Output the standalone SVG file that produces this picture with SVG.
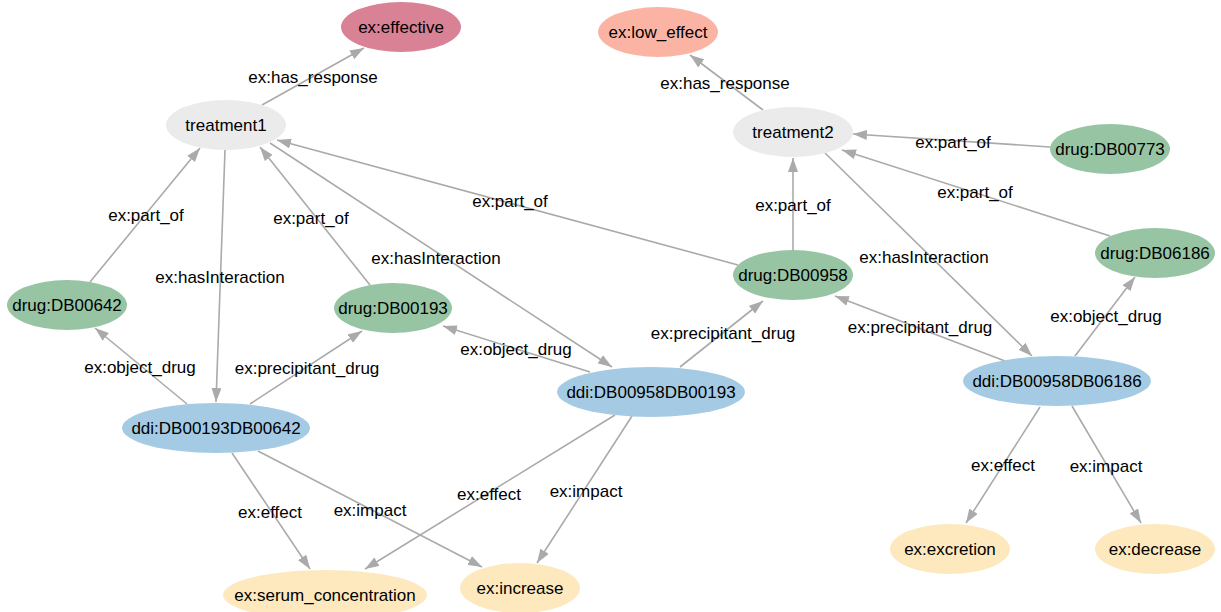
<svg xmlns="http://www.w3.org/2000/svg" width="1221" height="612" viewBox="0 0 1221 612">
<defs>
<marker id="arr" markerUnits="userSpaceOnUse" markerWidth="14" markerHeight="10" refX="14" refY="5" orient="auto">
<path d="M0,0 L14,5 L0,10 z" fill="#aaaaaa"/>
</marker>
<style>
.e{stroke:#aaaaaa;stroke-width:1.6;fill:none;marker-end:url(#arr)}
.n text,.l{font-family:"Liberation Sans",Arial,sans-serif;font-size:17px;fill:#000}
.n text{text-anchor:middle;dominant-baseline:central}
.l{text-anchor:middle;dominant-baseline:central}
.g{fill:#ebebeb}.gr{fill:#97c5a3}.b{fill:#a4cbe3}.y{fill:#fde9bd}
</style>
</defs>
<rect width="1221" height="612" fill="#ffffff"/>
<g id="edges">
<line class="e" x1="262" y1="105" x2="364" y2="48"/>
<line class="e" x1="763" y1="110" x2="690" y2="55"/>
<line class="e" x1="1050" y1="147" x2="853" y2="134"/>
<line class="e" x1="1110" y1="236" x2="842" y2="150"/>
<line class="e" x1="793" y1="250" x2="793" y2="158"/>
<line class="e" x1="738" y1="265" x2="277" y2="140"/>
<line class="e" x1="90" y1="282" x2="200" y2="148"/>
<line class="e" x1="370" y1="285" x2="260" y2="147"/>
<line class="e" x1="225" y1="150" x2="216" y2="402"/>
<line class="e" x1="270" y1="143" x2="612" y2="367"/>
<line class="e" x1="825" y1="153" x2="1032" y2="356"/>
<line class="e" x1="187" y1="404" x2="95" y2="328"/>
<line class="e" x1="250" y1="404" x2="362" y2="331"/>
<line class="e" x1="590" y1="372" x2="443" y2="326"/>
<line class="e" x1="680" y1="367" x2="763" y2="301"/>
<line class="e" x1="1005" y1="361" x2="835" y2="296"/>
<line class="e" x1="1075" y1="356" x2="1135" y2="277"/>
<line class="e" x1="232" y1="453" x2="310" y2="569"/>
<line class="e" x1="258" y1="451" x2="482" y2="567"/>
<line class="e" x1="615" y1="415" x2="365" y2="569"/>
<line class="e" x1="632" y1="416" x2="537" y2="563"/>
<line class="e" x1="1040" y1="407" x2="966" y2="523"/>
<line class="e" x1="1072" y1="406" x2="1141" y2="523"/>
</g>
<g id="edge-labels">
<text class="l" x="313" y="77">ex:has_response</text>
<text class="l" x="725" y="83">ex:has_response</text>
<text class="l" x="953" y="142">ex:part_of</text>
<text class="l" x="975" y="192">ex:part_of</text>
<text class="l" x="793" y="205">ex:part_of</text>
<text class="l" x="510" y="201">ex:part_of</text>
<text class="l" x="146" y="215">ex:part_of</text>
<text class="l" x="311" y="218">ex:part_of</text>
<text class="l" x="220" y="277">ex:hasInteraction</text>
<text class="l" x="436" y="258">ex:hasInteraction</text>
<text class="l" x="924" y="257">ex:hasInteraction</text>
<text class="l" x="140" y="367">ex:object_drug</text>
<text class="l" x="307" y="368">ex:precipitant_drug</text>
<text class="l" x="516" y="349">ex:object_drug</text>
<text class="l" x="723" y="333">ex:precipitant_drug</text>
<text class="l" x="920" y="327">ex:precipitant_drug</text>
<text class="l" x="1106" y="316">ex:object_drug</text>
<text class="l" x="270" y="512">ex:effect</text>
<text class="l" x="370" y="510">ex:impact</text>
<text class="l" x="489" y="494">ex:effect</text>
<text class="l" x="586" y="491">ex:impact</text>
<text class="l" x="1003" y="465">ex:effect</text>
<text class="l" x="1106" y="466">ex:impact</text>
</g>
<g id="n-effective" class="n"><ellipse cx="401" cy="27" rx="60" ry="25" fill="#d98195"/><text x="401" y="27">ex:effective</text></g>
<g id="n-low_effect" class="n"><ellipse cx="658" cy="32" rx="60" ry="25" fill="#fbb4a3"/><text x="658" y="32">ex:low_effect</text></g>
<g id="n-treatment1" class="n"><ellipse class="g" cx="226" cy="125" rx="60" ry="25"/><text x="226" y="125">treatment1</text></g>
<g id="n-treatment2" class="n"><ellipse class="g" cx="793" cy="132" rx="60" ry="25"/><text x="793" y="132">treatment2</text></g>
<g id="n-DB00773" class="n"><ellipse class="gr" cx="1110" cy="149" rx="60" ry="25"/><text x="1110" y="149">drug:DB00773</text></g>
<g id="n-DB06186" class="n"><ellipse class="gr" cx="1155" cy="253" rx="60" ry="25"/><text x="1155" y="253">drug:DB06186</text></g>
<g id="n-DB00958" class="n"><ellipse class="gr" cx="793" cy="275" rx="60" ry="25"/><text x="793" y="275">drug:DB00958</text></g>
<g id="n-DB00642" class="n"><ellipse class="gr" cx="67" cy="305" rx="60" ry="25"/><text x="67" y="305">drug:DB00642</text></g>
<g id="n-DB00193" class="n"><ellipse class="gr" cx="393" cy="308" rx="59" ry="25"/><text x="393" y="308">drug:DB00193</text></g>
<g id="n-ddi1" class="n"><ellipse class="b" cx="216" cy="428" rx="94" ry="25"/><text x="216" y="428">ddi:DB00193DB00642</text></g>
<g id="n-ddi2" class="n"><ellipse class="b" cx="651" cy="392" rx="94" ry="25"/><text x="651" y="392">ddi:DB00958DB00193</text></g>
<g id="n-ddi3" class="n"><ellipse class="b" cx="1057" cy="381" rx="94" ry="25"/><text x="1057" y="381">ddi:DB00958DB06186</text></g>
<g id="n-excretion" class="n"><ellipse class="y" cx="950" cy="549" rx="60" ry="25"/><text x="950" y="549">ex:excretion</text></g>
<g id="n-decrease" class="n"><ellipse class="y" cx="1155" cy="549" rx="60" ry="25"/><text x="1155" y="549">ex:decrease</text></g>
<g id="n-serum" class="n"><ellipse class="y" cx="325" cy="595" rx="102" ry="25"/><text x="325" y="595">ex:serum_concentration</text></g>
<g id="n-increase" class="n"><ellipse class="y" cx="520" cy="588" rx="60" ry="25"/><text x="520" y="588">ex:increase</text></g>
</svg>
